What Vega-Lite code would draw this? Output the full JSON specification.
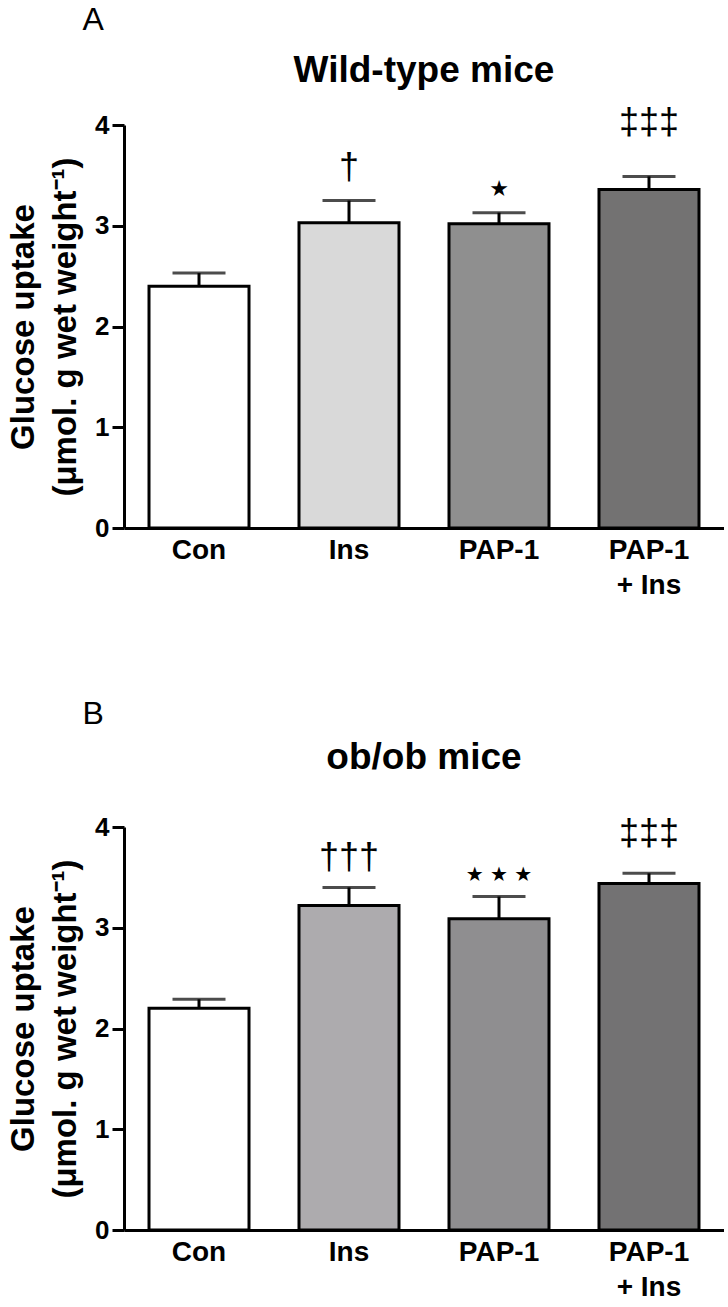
{
  "$schema": "https://vega.github.io/schema/vega-lite/v6.json",
  "padding": {"left": 7, "top": 4, "right": 0, "bottom": 0},
  "background": "white",
  "config": {
    "view": {"stroke": null},
    "font": "Liberation Sans",
    "concat": {"spacing": 99},
    "axisX": {
      "domainWidth": 3, "domainColor": "black", "ticks": false,
      "labelFontSize": 28, "labelFontWeight": "bold", "labelColor": "black",
      "labelPadding": 8, "labelAngle": 0, "labelLineHeight": 35, "title": null
    },
    "axisY": {
      "domainWidth": 3, "domainColor": "black", "tickWidth": 3, "tickSize": 12, "tickColor": "black",
      "labelFontSize": 26, "labelFontWeight": "bold", "labelColor": "black", "labelPadding": 3,
      "grid": false, "titleColor": "black"
    },
    "title": {"color": "black"}
  },
  "resolve": {"scale": {"color": "independent"}},
  "vconcat": [
    {
      "title": {"text": "A", "anchor": "start", "fontSize": 32, "fontWeight": "normal", "dx": 75, "offset": 15},
      "resolve": {"scale": {"color": "independent"}},
      "vconcat": [
        {
          "title": {"text": "Wild-type mice", "fontSize": 37, "fontWeight": "bold", "anchor": "middle", "frame": "group", "offset": 15},
          "width": 600,
          "height": 403,
          "data": {"values": [
            {"group": "Con", "mean": 2.40, "upper": 2.53, "ann": ""},
            {"group": "Ins", "mean": 3.03, "upper": 3.25, "ann": "†"},
            {"group": "PAP-1", "mean": 3.02, "upper": 3.13, "ann": "★"},
            {"group": "PAP-1 + Ins", "mean": 3.36, "upper": 3.49, "ann": "‡‡‡"}
          ]},
          "encoding": {
            "x": {"field": "group", "type": "nominal", "sort": null,
                  "scale": {"paddingInner": 0.3333, "paddingOuter": 0.1667},
                  "axis": {"labelExpr": "datum.label == 'PAP-1 + Ins' ? ['PAP-1', '+ Ins'] : datum.label"}}
          },
          "layer": [
            {"mark": {"type": "rule", "color": "black", "strokeWidth": 3},
             "encoding": {"y": {"field": "mean", "type": "quantitative"}, "y2": {"field": "upper"}}},
            {"mark": {"type": "tick", "orient": "horizontal", "size": 53, "thickness": 3, "color": "black"},
             "encoding": {"y": {"field": "upper", "type": "quantitative"}}},
            {"mark": {"type": "bar", "stroke": "black", "strokeWidth": 3},
             "encoding": {
               "y": {"field": "mean", "type": "quantitative",
                     "scale": {"domain": [0, 4]},
                     "axis": {"values": [0, 1, 2, 3, 4], "format": "d",
                              "title": ["Glucose uptake", "(μmol. g wet weight⁻¹)"],
                              "titleFontSize": 33, "titleFontWeight": "bold", "titlePadding": 12, "titleLineHeight": 42}},
               "color": {"field": "group", "type": "nominal", "sort": null, "legend": null,
                         "scale": {"domain": ["Con", "Ins", "PAP-1", "PAP-1 + Ins"], "range": ["#ffffff", "#d9d9d9", "#8f8f8f", "#737272"]}}
             }},
            {"transform": [{"filter": "indexof(datum.ann, '†') >= 0"}],
             "mark": {"type": "text", "baseline": "bottom", "fontSize": 36, "dy": -14, "color": "black"},
             "encoding": {"y": {"field": "upper", "type": "quantitative"}, "text": {"field": "ann"}}},
            {"transform": [{"filter": "indexof(datum.ann, '‡') >= 0"}],
             "mark": {"type": "text", "baseline": "bottom", "fontSize": 36, "dy": -34, "color": "black"},
             "encoding": {"y": {"field": "upper", "type": "quantitative"}, "text": {"field": "ann"}}},
            {"transform": [{"filter": "indexof(datum.ann, '★') >= 0"}],
             "mark": {"type": "text", "baseline": "bottom", "fontSize": 22, "font": "DejaVu Sans", "dy": -12, "color": "black"},
             "encoding": {"y": {"field": "upper", "type": "quantitative"}, "text": {"field": "ann"}}}
          ]
        }
      ]
    },
    {
      "title": {"text": "B", "anchor": "start", "fontSize": 32, "fontWeight": "normal", "dx": 75, "offset": 8},
      "resolve": {"scale": {"color": "independent"}},
      "vconcat": [
        {
          "title": {"text": "ob/ob mice", "fontSize": 37, "fontWeight": "bold", "anchor": "middle", "frame": "group", "offset": 37},
          "width": 600,
          "height": 403,
          "data": {"values": [
            {"group": "Con", "mean": 2.20, "upper": 2.29, "ann": ""},
            {"group": "Ins", "mean": 3.22, "upper": 3.40, "ann": "†††"},
            {"group": "PAP-1", "mean": 3.09, "upper": 3.31, "ann": "★ ★ ★"},
            {"group": "PAP-1 + Ins", "mean": 3.44, "upper": 3.54, "ann": "‡‡‡"}
          ]},
          "encoding": {
            "x": {"field": "group", "type": "nominal", "sort": null,
                  "scale": {"paddingInner": 0.3333, "paddingOuter": 0.1667},
                  "axis": {"labelExpr": "datum.label == 'PAP-1 + Ins' ? ['PAP-1', '+ Ins'] : datum.label"}}
          },
          "layer": [
            {"mark": {"type": "rule", "color": "black", "strokeWidth": 3},
             "encoding": {"y": {"field": "mean", "type": "quantitative"}, "y2": {"field": "upper"}}},
            {"mark": {"type": "tick", "orient": "horizontal", "size": 53, "thickness": 3, "color": "black"},
             "encoding": {"y": {"field": "upper", "type": "quantitative"}}},
            {"mark": {"type": "bar", "stroke": "black", "strokeWidth": 3},
             "encoding": {
               "y": {"field": "mean", "type": "quantitative",
                     "scale": {"domain": [0, 4]},
                     "axis": {"values": [0, 1, 2, 3, 4], "format": "d",
                              "title": ["Glucose uptake", "(μmol. g wet weight⁻¹)"],
                              "titleFontSize": 33, "titleFontWeight": "bold", "titlePadding": 12, "titleLineHeight": 42}},
               "color": {"field": "group", "type": "nominal", "sort": null, "legend": null,
                         "scale": {"domain": ["Con", "Ins", "PAP-1", "PAP-1 + Ins"], "range": ["#ffffff", "#adabae", "#8f8e90", "#737273"]}}
             }},
            {"transform": [{"filter": "indexof(datum.ann, '†') >= 0"}],
             "mark": {"type": "text", "baseline": "bottom", "fontSize": 36, "dy": -10, "color": "black"},
             "encoding": {"y": {"field": "upper", "type": "quantitative"}, "text": {"field": "ann"}}},
            {"transform": [{"filter": "indexof(datum.ann, '‡') >= 0"}],
             "mark": {"type": "text", "baseline": "bottom", "fontSize": 36, "dy": -20, "color": "black"},
             "encoding": {"y": {"field": "upper", "type": "quantitative"}, "text": {"field": "ann"}}},
            {"transform": [{"filter": "indexof(datum.ann, '★') >= 0"}],
             "mark": {"type": "text", "baseline": "bottom", "fontSize": 20, "font": "DejaVu Sans", "dy": -12, "color": "black"},
             "encoding": {"y": {"field": "upper", "type": "quantitative"}, "text": {"field": "ann"}}}
          ]
        }
      ]
    }
  ]
}
